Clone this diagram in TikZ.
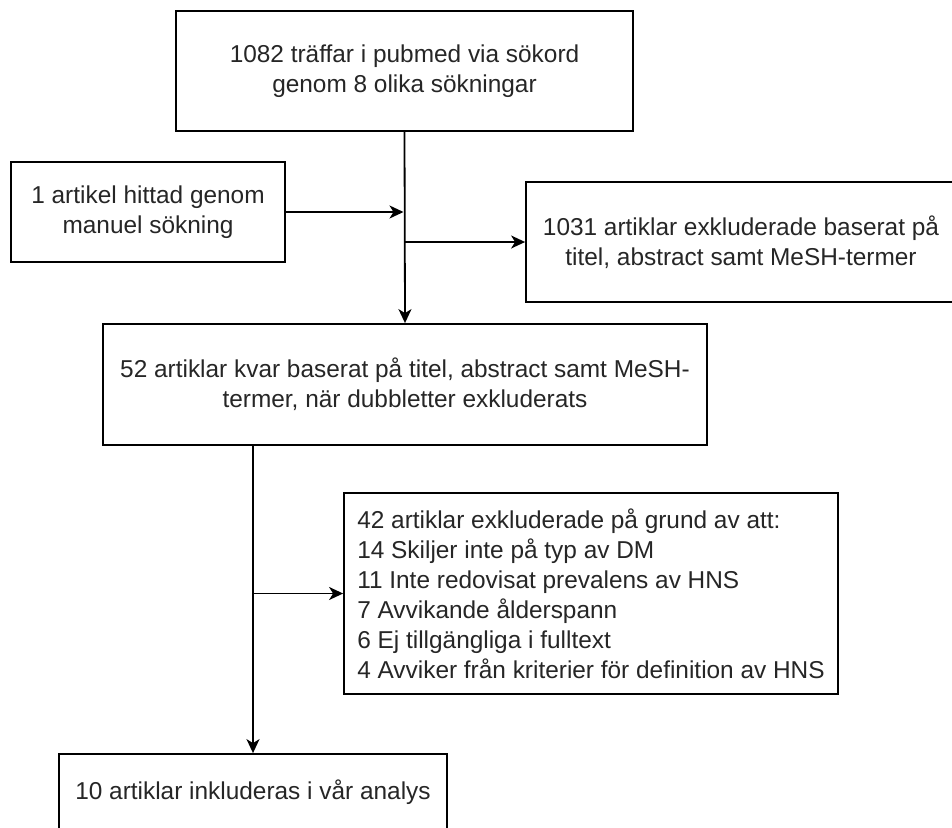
\documentclass[tikz,border=0pt]{standalone}
\usepackage{fontspec}
\setmainfont{Liberation Sans}
\usetikzlibrary{arrows.meta}
\begin{document}
\begin{tikzpicture}[x=1pt,y=-1pt,
  box/.style={draw=black, line width=1.8pt, rectangle, inner sep=0pt, text=black!85,
    font=\fontsize{24.4}{30}\selectfont, align=center},
  arr/.style={draw=black, line width=1.8pt, -{Stealth[length=14pt,width=13pt,inset=4pt]}}]
\useasboundingbox (0,0) rectangle (952,827);
\clip (0,0) rectangle (952,827);
\fill[white] (0,0) rectangle (952,827);

\node[box, minimum width=457pt, minimum height=120pt] (top) at (404.5,71)
  {1082 träffar i pubmed via sökord\\genom 8 olika sökningar};
\node[box, minimum width=274pt, minimum height=100pt] (manual) at (148,212)
  {1 artikel hittad genom\\manuel sökning};
\node[box, minimum width=430pt, minimum height=120pt] (excl1) at (741,242)
  {1031 artiklar exkluderade baserat på\\titel, abstract samt MeSH-termer};
\node[box, minimum width=604pt, minimum height=121pt] (mid) at (405,384.5)
  {52 artiklar kvar baserat på titel, abstract samt MeSH-\\termer, när dubbletter exkluderats};
\node[box, minimum width=494pt, minimum height=201pt, align=left] (excl2) at (591,593.5)
  {42 artiklar exkluderade på grund av att:\\
   14 Skiljer inte på typ av DM\\
   11 Inte redovisat prevalens av HNS\\
   7 Avvikande ålderspann\\
   6 Ej tillgängliga i fulltext\\
   4 Avviker från kriterier för definition av HNS};
\node[box, minimum width=388pt, minimum height=76pt] (final) at (253,792)
  {10 artiklar inkluderas i vår analys};

\coordinate (j1) at (top.south |- manual.east);
\coordinate (j2) at (top.south |- excl1.west);
\coordinate (j3) at (final.north |- excl2.west);

\draw[arr] (top.south) -- (mid.north);
\draw[arr] (manual.east) -- ([xshift=-1pt]j1);
\draw[arr] (j2) -- (excl1.west);
\draw[arr] (mid.south -| final.north) -- (final.north);
\draw[arr] (j3) -- (excl2.west);
\end{tikzpicture}
\end{document}
